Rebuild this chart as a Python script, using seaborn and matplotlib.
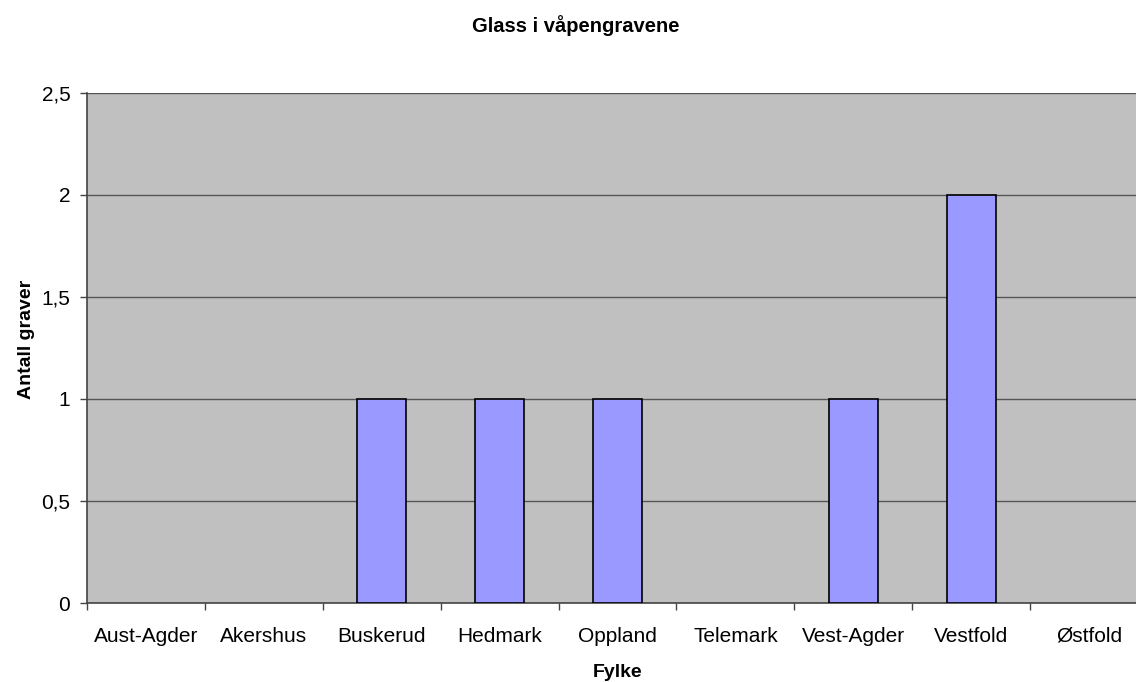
import matplotlib
matplotlib.use("Agg")
import matplotlib.pyplot as plt
import seaborn as sns
import pandas as pd

fylker = ["Aust-Agder", "Akershus", "Buskerud", "Hedmark", "Oppland",
          "Telemark", "Vest-Agder", "Vestfold", "Østfold"]
antall = [0, 0, 1, 1, 1, 0, 1, 2, 0]

df = pd.DataFrame({"Fylke": fylker, "Antall": antall})

sns.set_theme(style="white")
plt.rcParams["font.family"] = ["Liberation Sans", "DejaVu Sans"]
plt.rcParams["text.color"] = "black"
plt.rcParams["axes.labelcolor"] = "black"
plt.rcParams["xtick.color"] = "black"
plt.rcParams["ytick.color"] = "black"

fig = plt.figure(figsize=(11.36, 6.82), dpi=100)
ax = fig.add_axes([0.0766, 0.1158, 0.934, 0.748])
ax.set_facecolor("#C0C0C0")

sns.barplot(data=df, x="Fylke", y="Antall", ax=ax, color="#9999FF",
            saturation=1, width=0.415, edgecolor="black", linewidth=1.2,
            zorder=3)

# empty categories get no outline
for patch in ax.patches:
    if patch.get_height() == 0:
        patch.set_linewidth(0)

ax.set_xlim(-0.5, len(fylker) - 0.5)
ax.set_ylim(0, 2.5)
yt = [0, 0.5, 1, 1.5, 2, 2.5]
ax.set_yticks(yt)
ax.set_yticklabels([f"{v:g}".replace(".", ",") for v in yt], fontsize=15)
ax.yaxis.grid(True, color="#555555", linewidth=1.0, zorder=1)
ax.set_axisbelow(True)

# category ticks sit between categories
ax.set_xticks(range(len(fylker)))
ax.set_xticklabels(fylker, fontsize=15)
ax.tick_params(axis="x", which="major", length=0, pad=17)
ax.set_xticks([i - 0.5 for i in range(len(fylker) + 1)], minor=True)
ax.tick_params(axis="x", which="minor", bottom=True, length=5,
               direction="out", color="#444444", width=1)
ax.tick_params(axis="y", length=5, direction="out", color="#444444",
               width=1, left=True, pad=7)

for side in ["top", "right"]:
    ax.spines[side].set_visible(False)
for side in ["left", "bottom"]:
    ax.spines[side].set_color("#444444")
    ax.spines[side].set_linewidth(1.2)

ax.set_xlabel("Fylke", fontsize=14, fontweight="bold", labelpad=13)
ax.set_ylabel("Antall graver", fontsize=14, fontweight="bold")
ax.yaxis.set_label_coords(-0.049, 0.516)
fig.text(0.507, 0.963, "Glass i våpengravene", ha="center", va="center",
         fontsize=14.5, fontweight="bold")

fig.savefig("out.png", dpi=100)
